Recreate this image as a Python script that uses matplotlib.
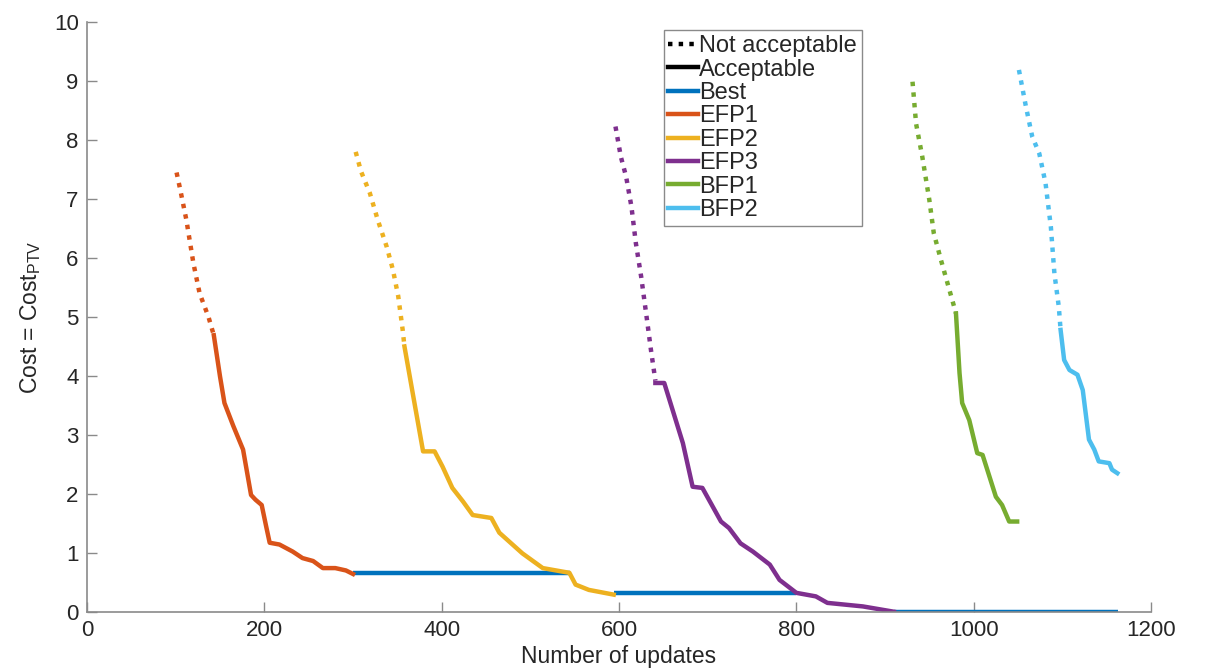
import matplotlib.pyplot as plt
from matplotlib.lines import Line2D

plt.rcParams['font.family'] = ['Liberation Sans', 'DejaVu Sans']
plt.rcParams['mathtext.fontset'] = 'custom'
plt.rcParams['mathtext.rm'] = 'Liberation Sans'

# colours (matlab default order)
c_best = '#0072BD'
c_efp1 = '#D95319'
c_efp2 = '#EDB120'
c_efp3 = '#7E2F8E'
c_bfp1 = '#77AC30'
c_bfp2 = '#4DBEEE'

# EFP1
efp1_nx = [101, 105, 112, 120, 127, 137, 143]
efp1_ny = [7.45, 7.17, 6.65, 5.91, 5.40, 5.00, 4.69]
efp1_ax = [143, 150, 155, 165, 176, 185, 190, 197, 202, 206, 217, 232, 243, 255, 266, 280, 292, 300]
efp1_ay = [4.69, 3.99, 3.54, 3.15, 2.75, 1.98, 1.90, 1.81, 1.45, 1.17, 1.14, 1.02, 0.91, 0.86, 0.74, 0.74, 0.70, 0.64]

# EFP2
efp2_nx = [303, 309, 319, 328, 338, 345, 351, 356, 358]
efp2_ny = [7.80, 7.47, 7.10, 6.64, 6.19, 5.80, 5.35, 4.78, 4.50]
efp2_ax = [358, 368, 379, 392, 401, 412, 424, 435, 456, 465, 491, 514, 544, 551, 566, 594]
efp2_ay = [4.50, 3.65, 2.72, 2.72, 2.46, 2.10, 1.87, 1.64, 1.59, 1.34, 0.99, 0.74, 0.66, 0.46, 0.37, 0.29]

# EFP3
efp3_nx = [596, 602, 608, 614, 619, 625, 631, 636, 641]
efp3_ny = [8.23, 7.72, 7.38, 6.87, 6.25, 5.68, 5.01, 4.44, 3.92]
efp3_ax = [641, 651, 672, 683, 694, 715, 724, 737, 751, 770, 781, 800, 822, 835, 875, 910]
efp3_ay = [3.88, 3.88, 2.86, 2.12, 2.10, 1.53, 1.42, 1.16, 1.02, 0.80, 0.54, 0.32, 0.26, 0.15, 0.09, 0.0]

# BFP1
bfp1_nx = [931, 935, 942, 950, 955, 963, 978, 980]
bfp1_ny = [8.99, 8.28, 7.72, 6.98, 6.42, 5.97, 5.17, 5.06]
bfp1_ax = [980, 984, 987, 995, 1004, 1010, 1025, 1032, 1040, 1049]
bfp1_ay = [5.06, 4.05, 3.54, 3.25, 2.69, 2.66, 1.95, 1.81, 1.53, 1.53]

# BFP2
bfp2_nx = [1051, 1059, 1066, 1074, 1081, 1087, 1091, 1096, 1098]
bfp2_ny = [9.19, 8.56, 8.06, 7.77, 7.27, 6.53, 5.74, 5.17, 4.78]
bfp2_ax = [1098, 1102, 1108, 1117, 1123, 1130, 1136, 1141, 1153, 1156, 1162]
bfp2_ay = [4.78, 4.27, 4.10, 4.02, 3.76, 2.92, 2.75, 2.55, 2.52, 2.41, 2.35]

# best so far: flat pieces (start, end, level)
best_x0 = [300, 594, 910]
best_x1 = [545, 800, 1163]
best_y = [0.65, 0.31, 0.0]

fig = plt.figure(figsize=(12.17, 6.72), dpi=100)
ax = fig.add_axes([0.0715, 0.0897, 0.8743, 0.8773])

lw = 3.2
for a, b, y in zip(best_x0, best_x1, best_y):
    ax.plot([a, b], [y, y], color=c_best, lw=lw, solid_capstyle='butt')

series = [
    (efp1_nx, efp1_ny, efp1_ax, efp1_ay, c_efp1),
    (efp2_nx, efp2_ny, efp2_ax, efp2_ay, c_efp2),
    (efp3_nx, efp3_ny, efp3_ax, efp3_ay, c_efp3),
    (bfp1_nx, bfp1_ny, bfp1_ax, bfp1_ay, c_bfp1),
    (bfp2_nx, bfp2_ny, bfp2_ax, bfp2_ay, c_bfp2),
]
for nx, ny, sx, sy, c in series:
    ax.plot(nx, ny, color=c, lw=lw, dashes=(1, 1.4), dash_capstyle='butt')
    ax.plot(sx, sy, color=c, lw=lw, solid_joinstyle='round')

ax.set_xlim(0, 1200)
ax.set_ylim(0, 10)
ax.set_xticks(range(0, 1201, 200))
ax.set_yticks(range(0, 11))

for s in ['top', 'right']:
    ax.spines[s].set_visible(False)
for s in ['left', 'bottom']:
    ax.spines[s].set_color('#8a8a8a')
    ax.spines[s].set_linewidth(1.2)
ax.tick_params(direction='in', length=7, width=1, colors='#8a8a8a',
               labelcolor='#262626', labelsize=16, pad=6)

ax.set_xlabel('Number of updates', fontsize=16.5, color='#262626', labelpad=3)
ax.set_ylabel(r'Cost = Cost$_\mathregular{PTV}$', fontsize=16.5, color='#262626', labelpad=8)

handles = [
    Line2D([], [], color='black', lw=lw, dashes=(1, 1.4)),
    Line2D([], [], color='black', lw=lw),
    Line2D([], [], color=c_best, lw=lw),
    Line2D([], [], color=c_efp1, lw=lw),
    Line2D([], [], color=c_efp2, lw=lw),
    Line2D([], [], color=c_efp3, lw=lw),
    Line2D([], [], color=c_bfp1, lw=lw),
    Line2D([], [], color=c_bfp2, lw=lw),
]
labels = ['Not acceptable', 'Acceptable', 'Best', 'EFP1', 'EFP2', 'EFP3', 'BFP1', 'BFP2']
leg = ax.legend(handles, labels, loc='upper left', bbox_to_anchor=(0.542, 0.986),
                fontsize=17, frameon=True, fancybox=False, framealpha=1,
                handlelength=1.25, handletextpad=0.05, labelspacing=0.06,
                borderpad=0.2, borderaxespad=0)
leg.get_frame().set_edgecolor('#8a8a8a')
leg.get_frame().set_linewidth(1.0)
for t in leg.get_texts():
    t.set_color('#262626')

fig.savefig('out.png', dpi=100)
